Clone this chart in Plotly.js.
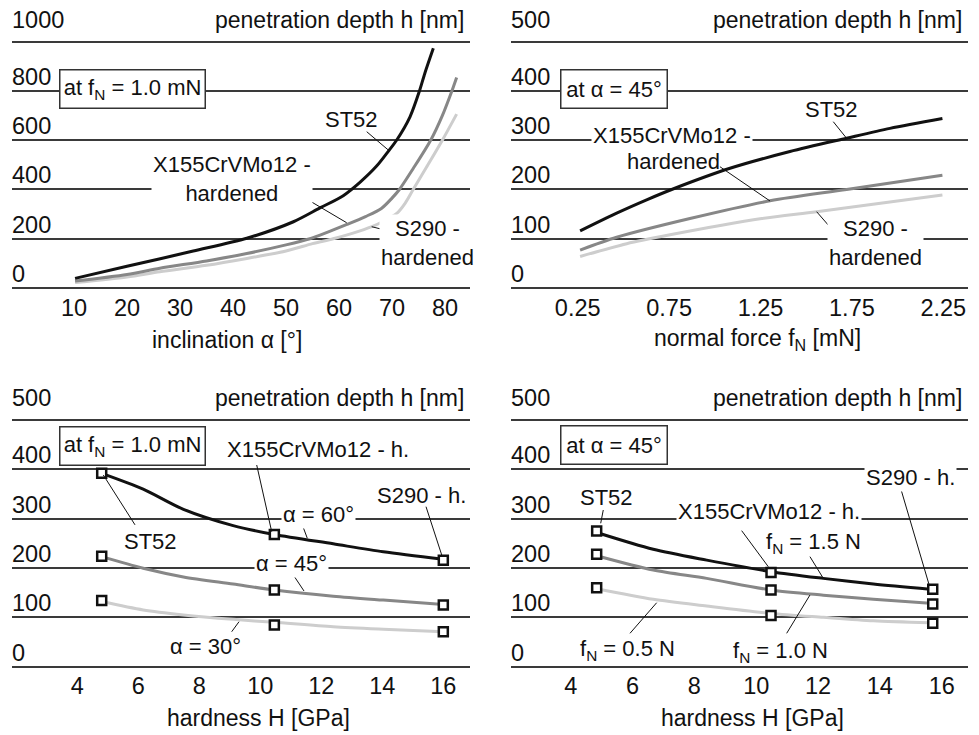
<!DOCTYPE html>
<html><head><meta charset="utf-8">
<script src="https://cdn.plot.ly/plotly-3.0.1.min.js"></script>
<style>html,body{margin:0;padding:0;background:#fff}</style>
</head><body><div id="chart" style="width:979px;height:735px"></div>
<script>
// ---------- DATA ----------
// Panel 1: depth vs inclination (fN = 1.0 mN)
const alphaTicks = [10, 20, 30, 40, 50, 60, 70, 80];
const depthTicks1000 = [0, 200, 400, 600, 800, 1000];
const st52_alpha = [10.2, 20, 32.5, 42.6, 51.4, 56.4, 60.8, 64, 67.1, 69.3, 70.9, 73.4, 75.2, 76.2, 77.8];
const st52_hA    = [39, 88, 150, 202, 269, 325, 375, 430, 495, 555, 601, 695, 801, 872, 973];
const x155_alpha = [10.2, 20, 26.2, 35, 42.6, 50, 54.5, 58, 61.5, 65, 68, 70, 71.4, 74, 77.3, 79.5, 81.3, 82.2];
const x155_hA    = [28, 55, 80, 110, 140, 175, 200, 228, 258, 290, 323, 365, 400, 485, 600, 700, 800, 855];
const s290_alpha = [10.2, 20, 26.2, 35, 42.6, 50, 55, 58.9, 62.5, 66.2, 68.5, 70.9, 72.5, 74, 76.5, 79.5, 82.2];
const s290_hA    = [22, 45, 66, 92, 120, 150, 180, 200, 222, 249, 272, 303, 345, 400, 490, 600, 706];

// Panel 2: depth vs normal force (alpha = 45 deg)
const forceTicks = [0.25, 0.75, 1.25, 1.75, 2.25];
const forceTickText = ['0.25', '0.75', '1.25', '1.75', '2.25'];
const depthTicks500 = [0, 100, 200, 300, 400, 500];
const st52_f  = [0.263, 0.463, 0.627, 0.764, 1.083, 1.411, 1.721, 1.958, 2.245];
const st52_hF = [116, 152, 179, 200, 243, 277, 304, 324, 344];
const x155_f  = [0.263, 0.463, 0.864, 1.302, 1.721, 2.245];
const x155_hF = [77, 103, 141, 177, 200, 229];
const s290_f  = [0.263, 0.518, 0.755, 1.257, 1.557, 2.245];
const s290_hF = [64, 90, 108, 141, 155, 189];

// Panel 3: depth vs hardness (fN = 1.0 mN)
const hardTicks = [4, 6, 8, 10, 12, 14, 16];
const hard3_pts = [4.8, 10.46, 16];
const hard3_curve = [4.8, 6.16, 7.48, 9.11, 10.46, 12.39, 14.03, 16];
const a60_curve = [392, 360, 319, 286, 268, 249, 233, 218];
const a45_curve = [223, 199.5, 182, 167.6, 155.5, 143, 135, 126];
const a30_curve = [132, 115, 105, 96, 90, 81, 76, 71];
const a60_pts = [392, 268, 216];
const a45_pts = [224, 155.5, 125];
const a30_pts = [134, 84.5, 71];

// Panel 4: depth vs hardness (alpha = 45 deg)
const hard4_pts = [4.84, 10.48, 15.71];
const hard4_curve = [4.84, 6.67, 8.4, 10.48, 12.17, 13.79, 15.62];
const f15_curve = [272, 238, 216, 192.6, 179, 167.6, 157];
const f10_curve = [225, 196, 179, 155.5, 145, 136.6, 128.5];
const f05_curve = [158, 136.6, 123, 108, 100, 93, 89];
const f15_pts = [275, 191, 157];
const f10_pts = [228, 155.5, 127];
const f05_pts = [160, 104, 88];

// ---------- STYLE ----------
const W = 979, H = 735;
const FONT = 'Liberation Sans, Arial, Helvetica, sans-serif';
const FS = 22, FS_TICK = 23.5, FS_TITLE = 23;
const BLACK = '#111111', GRAY = '#878787', LIGHT = '#cdcdcd';
const px = x => x / W, py = y => 1 - y / H;

function curve(x, y, color, xa, ya) {
  return {x: x, y: y, xaxis: xa, yaxis: ya, type: 'scatter', mode: 'lines',
    line: {color: color, width: 3, shape: 'spline', smoothing: 0.8},
    hoverinfo: 'skip', showlegend: false};
}
function squares(x, y, xa, ya) {
  return {x: x, y: y, xaxis: xa, yaxis: ya, type: 'scatter', mode: 'markers',
    marker: {symbol: 'square', size: 9, color: 'white', line: {color: BLACK, width: 2.5}},
    hoverinfo: 'skip', showlegend: false};
}

const data = [
  curve(s290_alpha, s290_hA, LIGHT, 'x', 'y'),
  curve(x155_alpha, x155_hA, GRAY, 'x', 'y'),
  curve(st52_alpha, st52_hA, BLACK, 'x', 'y'),
  curve(s290_f, s290_hF, LIGHT, 'x2', 'y2'),
  curve(x155_f, x155_hF, GRAY, 'x2', 'y2'),
  curve(st52_f, st52_hF, BLACK, 'x2', 'y2'),
  curve(hard3_curve, a30_curve, LIGHT, 'x3', 'y3'),
  curve(hard3_curve, a45_curve, GRAY, 'x3', 'y3'),
  curve(hard3_curve, a60_curve, BLACK, 'x3', 'y3'),
  squares(hard3_pts, a30_pts, 'x3', 'y3'),
  squares(hard3_pts, a45_pts, 'x3', 'y3'),
  squares(hard3_pts, a60_pts, 'x3', 'y3'),
  curve(hard4_curve, f05_curve, LIGHT, 'x4', 'y4'),
  curve(hard4_curve, f10_curve, GRAY, 'x4', 'y4'),
  curve(hard4_curve, f15_curve, BLACK, 'x4', 'y4'),
  squares(hard4_pts, f05_pts, 'x4', 'y4'),
  squares(hard4_pts, f10_pts, 'x4', 'y4'),
  squares(hard4_pts, f15_pts, 'x4', 'y4')
];

function xax(domain, range, tickvals, ticktext, anchor) {
  const a = {domain: domain, range: range, tickvals: tickvals, showgrid: false, zeroline: false,
    showline: false, ticks: '', ticklabelstandoff: 1, tickfont: {family: FONT, size: FS_TICK, color: BLACK},
    anchor: anchor, fixedrange: true};
  if (ticktext) a.ticktext = ticktext;
  return a;
}
function yax(domain, range, tickvals, anchor) {
  return {domain: domain, range: range, tickvals: tickvals, showticklabels: false, ticks: '',
    showgrid: true, gridcolor: '#3a3a3a', gridwidth: 2, zeroline: false, showline: false,
    anchor: anchor, fixedrange: true};
}

const xL = [px(12), px(470)], xR = [px(511), px(968)];
const yT = [py(290), py(10)], yB = [py(668.7), py(388)];

const annotations = [];
function txt(x, y, text, o) {
  annotations.push(Object.assign({xref: 'paper', yref: 'paper', x: px(x), y: py(y), text: text,
    showarrow: false, xanchor: 'center', yanchor: 'middle',
    font: {family: FONT, size: FS, color: BLACK}}, o || {}));
}
function yLabels(ticks, yref, xref) {
  ticks.forEach((v, i) => {
    annotations.push({xref: xref + ' domain', yref: yref, x: 0, y: v, text: String(v),
      showarrow: false, xanchor: 'left', yanchor: 'middle', xshift: -2,
      yshift: i === ticks.length - 1 ? 22 : 14,
      font: {family: FONT, size: FS_TICK, color: BLACK}});
  });
}
yLabels(depthTicks1000, 'y', 'x');
yLabels(depthTicks500, 'y2', 'x2');
yLabels(depthTicks500, 'y3', 'x3');
yLabels(depthTicks500, 'y4', 'x4');

// axis titles
const yTitle = 'penetration depth h [nm]';
const tfont = {family: FONT, size: FS_TITLE, color: BLACK};
txt(466, 20, yTitle, {xanchor: 'right', font: tfont});
txt(964, 20, yTitle, {xanchor: 'right', font: tfont});
txt(466, 398, yTitle, {xanchor: 'right', font: tfont});
txt(964, 398, yTitle, {xanchor: 'right', font: tfont});
txt(227, 340, 'inclination α [°]', {font: tfont});
txt(757, 339, 'normal force f<sub>N</sub> [mN]', {font: tfont});
txt(258, 718, 'hardness H [GPa]', {font: tfont});
txt(752, 718, 'hardness H [GPa]', {font: tfont});

// condition boxes
const box = {bgcolor: 'white', bordercolor: '#333333', borderwidth: 1.5, borderpad: 2, height: 33};
txt(132.7, 89.2, 'at f<sub>N</sub> = 1.0 mN', Object.assign({width: 140}, box));
txt(613.5, 88.8, 'at α = 45°', Object.assign({width: 101}, box));
txt(132.7, 445.5, 'at f<sub>N</sub> = 1.0 mN', Object.assign({width: 140}, box));
txt(613.5, 444.7, 'at α = 45°', Object.assign({width: 101}, box));

const bg = {bgcolor: 'white', borderpad: 1};
// panel 1 labels
txt(351.7, 120, 'ST52');
txt(232, 179, 'X155CrVMo12 -<br>hardened', bg);
txt(427, 243, 'S290 -<br>hardened', bg);
// panel 2 labels
txt(831.7, 110, 'ST52');
txt(672, 135, 'X155CrVMo12 -', bg);
txt(673, 162, 'hardened');
txt(875, 243, 'S290 -<br>hardened', bg);
// panel 3 labels
txt(317.5, 449.3, 'X155CrVMo12 - h.');
txt(150, 541, 'ST52');
txt(421.7, 495, 'S290 - h.');
txt(318.3, 514, 'α = 60°', bg);
txt(291.7, 563.3, 'α = 45°', bg);
txt(205.8, 646.7, 'α = 30°');
// panel 4 labels
txt(606.7, 497.7, 'ST52');
txt(769, 511.7, 'X155CrVMo12 - h.', bg);
txt(910, 477.3, 'S290 - h.', bg);
txt(813.3, 543, 'f<sub>N</sub> = 1.5 N');
txt(780, 652, 'f<sub>N</sub> = 1.0 N');
txt(627.3, 650, 'f<sub>N</sub> = 0.5 N');

// leader lines (data coordinates)
const leaders = [
  ['x', 'y', 65.23, 634.6, 69.30, 560.3],
  ['x', 'y', 48.87, 425, 61.45, 265],
  ['x', 'y', 66.17, 248.9, 69.94, 228.6],
  ['x2', 'y2', 1.648, 337.6, 1.721, 303.9],
  ['x2', 'y2', 1.028, 246.2, 1.302, 176.6],
  ['x2', 'y2', 1.676, 104.1, 1.557, 154.9],
  ['x3', 'y3', 9.882, 408.8, 10.374, 273.6],
  ['x3', 'y3', 5.892, 287.5, 4.852, 388.6],
  ['x3', 'y3', 15.433, 324.3, 15.948, 226.4],
  ['x3', 'y3', 11.357, 290.7, 11.541, 260.3],
  ['x3', 'y3', 11.082, 185.9, 11.433, 153.4],
  ['x3', 'y3', 9.302, 91.2, 9.062, 70.9],
  ['x4', 'y4', 5.054, 317.6, 4.970, 290.7],
  ['x4', 'y4', 9.530, 275.7, 10.391, 202.7],
  ['x4', 'y4', 14.673, 361.6, 15.598, 165],
  ['x4', 'y4', 11.739, 223, 12.169, 179.2],
  ['x4', 'y4', 10.986, 67.7, 11.739, 145.3],
  ['x4', 'y4', 5.918, 67.7, 6.781, 129.7]
];
const shapes = leaders.map(l => ({type: 'line', xref: l[0], yref: l[1], x0: l[2], y0: l[3], x1: l[4], y1: l[5],
  line: {color: BLACK, width: 1}, layer: 'above'}));

const layout = {
  width: W, height: H, margin: {l: 0, r: 0, t: 0, b: 0},
  paper_bgcolor: 'white', plot_bgcolor: 'white', showlegend: false,
  font: {family: FONT, size: FS, color: BLACK},
  xaxis:  xax(xL, [-1.70, 84.72], alphaTicks, null, 'y'),
  yaxis:  yax(yT, [-8.12, 1128.7], depthTicks1000, 'x'),
  xaxis2: xax(xR, [-0.115, 2.385], forceTicks, forceTickText, 'y2'),
  yaxis2: yax(yT, [-4.06, 564.35], depthTicks500, 'x2'),
  xaxis3: xax(xL, [1.859, 16.875], hardTicks, null, 'y3'),
  yaxis3: yax(yB, [-4.05, 564.86], depthTicks500, 'x3'),
  xaxis4: xax(xR, [2.069, 16.851], hardTicks, null, 'y4'),
  yaxis4: yax(yB, [-4.05, 564.86], depthTicks500, 'x4'),
  annotations: annotations,
  shapes: shapes
};

Plotly.newPlot('chart', data, layout, {staticPlot: true, displayModeBar: false});
</script></body></html>
